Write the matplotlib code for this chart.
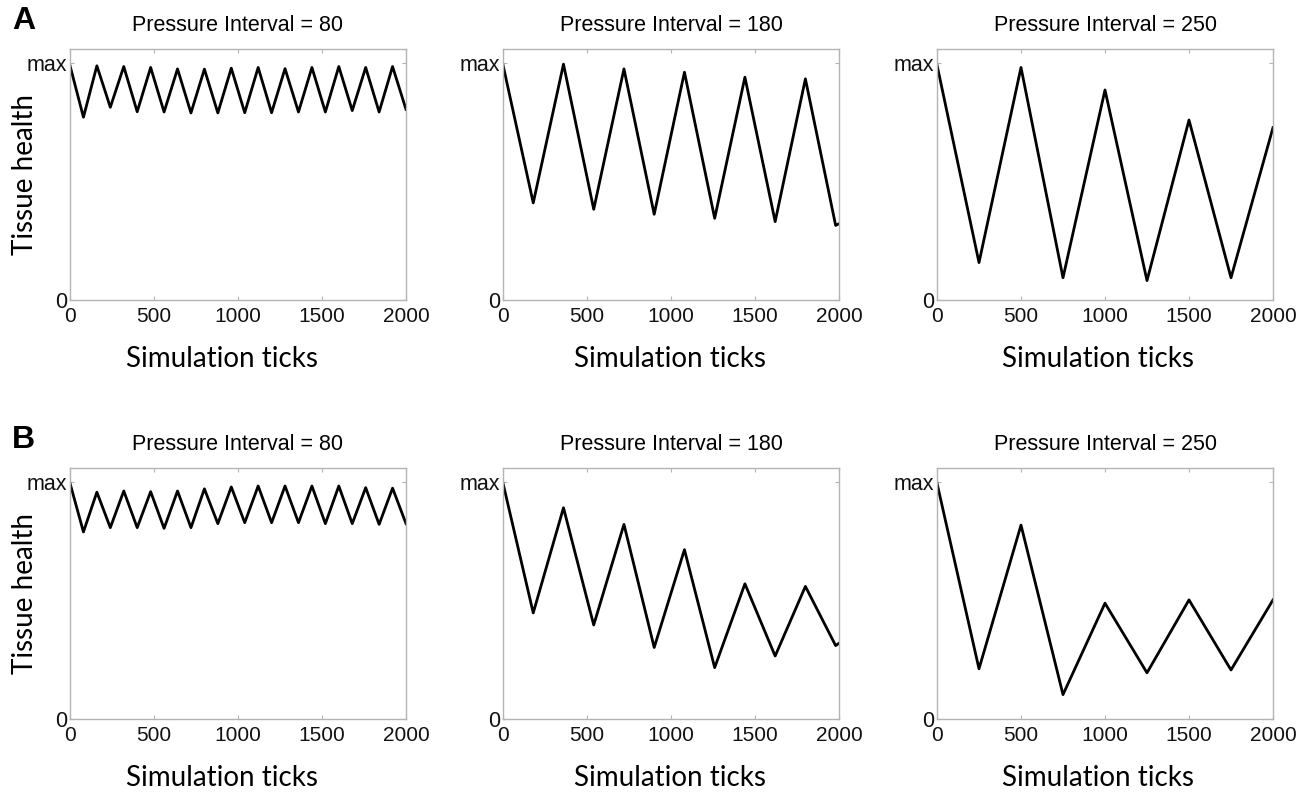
import matplotlib.pyplot as plt
import numpy as np

# tick positions of the extrema (start, every switch of pressure on/off, end)
x_80 = list(range(0, 2001, 80))
x_180 = list(range(0, 1981, 180)) + [2000]
x_250 = list(range(0, 2001, 250))

# tissue health (1 = max) read at each extremum
A_80 = [0.99, 0.772, 0.989, 0.814, 0.986, 0.795, 0.982, 0.794, 0.976, 0.79, 0.975, 0.79,
        0.979, 0.791, 0.982, 0.791, 0.977, 0.794, 0.982, 0.794, 0.986, 0.80, 0.982, 0.794,
        0.986, 0.805]
A_180 = [0.993, 0.41, 0.996, 0.383, 0.976, 0.362, 0.962, 0.345, 0.941, 0.331, 0.934, 0.315, 0.322]
A_250 = [0.993, 0.158, 0.982, 0.094, 0.887, 0.082, 0.76, 0.094, 0.728]

B_80 = [0.996, 0.79, 0.958, 0.808, 0.963, 0.808, 0.96, 0.805, 0.963, 0.808, 0.972, 0.825,
        0.98, 0.829, 0.984, 0.829, 0.984, 0.829, 0.984, 0.825, 0.984, 0.825, 0.977, 0.822,
        0.975, 0.825]
B_180 = [0.996, 0.448, 0.892, 0.397, 0.822, 0.302, 0.715, 0.217, 0.571, 0.266, 0.56, 0.31, 0.32]
B_250 = [0.996, 0.212, 0.819, 0.103, 0.489, 0.195, 0.503, 0.207, 0.503]

intervals = [80, 180, 250]
rows = {'A': [(x_80, A_80), (x_180, A_180), (x_250, A_250)],
        'B': [(x_80, B_80), (x_180, B_180), (x_250, B_250)]}

W, H = 1306, 795
fig = plt.figure(figsize=(W / 100, H / 100), dpi=100)

lefts = [70, 503, 937]
xlabel_x = [0.452, 0.497, 0.479]   # panels were pasted slightly off-centre
tops = {'A': 49, 'B': 468}
aw, ah = 336, 251
frame = '#b4b4b4'
sans = ['Liberation Sans', 'DejaVu Sans']
label_font = ['Lato', 'DejaVu Sans']

for r, key in enumerate(['A', 'B']):
    for c in range(3):
        xs, ys = rows[key][c]
        ax = fig.add_axes([lefts[c] / W, 1 - (tops[key] + ah) / H, aw / W, ah / H])
        ax.plot(xs, ys, color='black', lw=2.0, solid_joinstyle='round')
        ax.set_xlim(0, 2000)
        ax.set_ylim(0, 1.06)
        ax.set_xticks([0, 500, 1000, 1500, 2000])
        ax.set_yticks([0, 1])
        ax.set_yticklabels(['0', 'max'])
        for lab in ax.get_xticklabels() + ax.get_yticklabels():
            lab.set_family(sans)
        ax.tick_params(direction='in', top=True, right=True, length=3, width=0.8,
                       color=frame, labelcolor='#111111')
        ax.tick_params(axis='x', labelsize=15, pad=5)
        ax.tick_params(axis='y', labelsize=15.5, pad=2)
        for s in ax.spines.values():
            s.set_color(frame)
            s.set_linewidth(1.0)
        ax.set_title('Pressure Interval = %d' % intervals[c], family=sans,
                     fontsize=15.5, pad=13)
        ax.set_xlabel('Simulation ticks', family=label_font, fontsize=20, va='center')
        ax.xaxis.set_label_coords(xlabel_x[c], -0.235)
        if c == 0:
            ax.set_ylabel('Tissue health', family=label_font, fontsize=20, va='center')
            ax.yaxis.set_label_coords(-0.134, 0.5)
    fig.text(12 / W, 1 - (tops[key] - 28) / H, key, family=sans, fontsize=23,
             fontweight='bold', va='center', ha='left')

fig.savefig('out.png', dpi=100)
